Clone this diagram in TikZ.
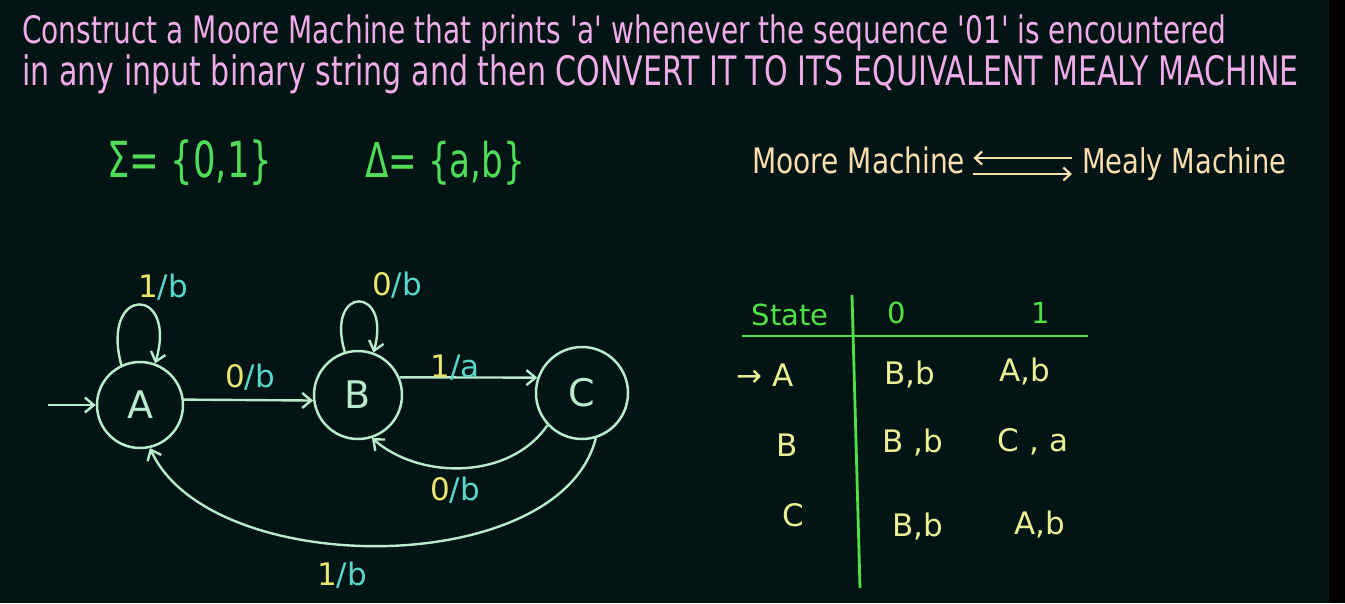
\documentclass[tikz,border=0pt]{standalone}
\usepackage{fontspec}
\setmainfont{DejaVu Sans}[Ligatures=TeXOff]
\usetikzlibrary{arrows.meta}
\definecolor{bg}{RGB}{2,20,20}
\definecolor{titlepink}{RGB}{240,172,232}
\definecolor{setgreen}{RGB}{80,220,90}
\definecolor{beige}{RGB}{250,222,175}
\definecolor{mint}{RGB}{185,235,205}
\definecolor{inyel}{RGB}{235,230,110}
\definecolor{outcyan}{RGB}{90,215,205}
\definecolor{tgreen}{RGB}{80,225,70}
\definecolor{tyel}{RGB}{235,240,150}
\newcommand\lab[2]{{\color{inyel}#1}{\color{outcyan}/#2}}
\newcommand\fitw[3]{\resizebox{#1}{!}{\scalebox{1}[#2]{#3}}}
\begin{document}
\begin{tikzpicture}[x=1pt,y=-1pt,
 state/.style={circle,draw=mint,line width=2.5pt,minimum size=86pt,inner sep=0pt,text=mint,font=\fontsize{38}{38}\selectfont},
 edge/.style={draw=mint,line width=2.4pt,-{Straight Barb[length=9pt,width=15pt]}},
 lbl/.style={font=\fontsize{31}{31}\selectfont,inner sep=1pt},
 cell/.style={text=tyel,font=\fontsize{31}{31}\selectfont,inner sep=1pt},
 head/.style={text=tgreen,font=\fontsize{29}{29}\selectfont,inner sep=1pt},
 title/.style={text=titlepink,anchor=base west,inner sep=0pt},
 mm/.style={text=beige,anchor=base west,inner sep=0pt},
 sets/.style={text=setgreen,anchor=west,inner sep=0pt,font=\fontsize{34}{34}\selectfont},
 mmarrow/.style={draw=beige,line width=2.2pt}]
\fill[bg] (0,0) rectangle (1329,603);
\fill[black] (1329,0) rectangle (1345,603);
\useasboundingbox (0,0) rectangle (1345,603);
% title
\node[title] (t1) at (22,43) {\fitw{1204pt}{1.35}{Construct a Moore Machine that prints 'a' whenever the sequence '01' is encountered}};
\node[title] (t2) at (22,85) {\fitw{1276pt}{1.35}{in any input binary string and then CONVERT IT TO ITS EQUIVALENT MEALY MACHINE}};
% sets
\node[sets] (sigma) at (107,163) {\fitw{165pt}{1.4}{Σ= \{0,1\}}};
\node[sets] (delta) at (365,163) {\fitw{160pt}{1.4}{Δ= \{a,b\}}};
% Moore <-> Mealy
\node[mm] (moore) at (752,173) {\fitw{213pt}{1.25}{Moore Machine}};
\node[mm] (mealy) at (1082,173) {\fitw{204pt}{1.25}{Mealy Machine}};
\draw[mmarrow,{Straight Barb[length=7pt,width=13pt]}-] ([shift={(8,-15)}]moore.base east) -- ([shift={(-10,-15)}]mealy.base west);
\draw[mmarrow,-{Straight Barb[length=7pt,width=13pt]}] ([shift={(8,1)}]moore.base east) -- ([shift={(-10,1)}]mealy.base west);
% states
\node[state] (A) at (140,405) {A};
\node[state,minimum size=88pt] (B) at (358,395) {B};
\node[state,minimum size=92pt] (C) at (582,393) {C};
\coordinate (start) at (48,405);
\draw[edge] (start) -- (A.west);
\draw[edge] (A.7) -- (B.187);
\draw[edge] (B.23) -- (C.161);
\draw[edge] (C.223) .. controls (510,480) and (420,480) .. (B.288);
\draw[edge] (C.287) .. controls (560,580) and (210,580) .. (A.283);
\draw[edge] (A.115) .. controls (100,285) and (178,285) .. (A.70);
\draw[edge] (B.107) .. controls (325,285) and (392,285) .. (B.70);
\node[lbl] (lAA) at (163,287) {\lab{1}{b}};
\node[lbl] (lBB) at (397,285) {\lab{0}{b}};
\node[lbl] (lAB) at (250,377) {\lab{0}{b}};
\node[lbl] (lBC) at (455,368) {\lab{1}{a}};
\node[lbl] (lCB) at (455,490) {\lab{0}{b}};
\node[lbl] (lCA) at (342,575) {\lab{1}{b}};
% table
\node[head] (hs) at (790,315) {State};
\node[head] (h0) at (897,313) {0};
\node[head] (h1) at (1041,313) {1};
\coordinate (vt) at (852,295);
\coordinate (vb) at (860,588);
\coordinate (hl) at (742,336);
\coordinate (hr) at (1088,336);
\draw[tgreen,line width=2.8pt] (vt) -- (vb);
\draw[tgreen,line width=2.8pt] (hl) -- (hr);
\node[cell] (rA) at (765,375) {→ A};
\node[cell] (rB) at (787,445) {B};
\node[cell] (rC) at (793,515) {C};
\node[cell] (a0) at (910,375) {B,b};
\node[cell] (a1) at (1025,372) {A,b};
\node[cell] (b0) at (913,443) {B ,b};
\node[cell] (b1) at (1033,442) {C , a};
\node[cell] (c0) at (918,527) {B,b};
\node[cell] (c1) at (1040,525) {A,b};
\end{tikzpicture}
\end{document}
